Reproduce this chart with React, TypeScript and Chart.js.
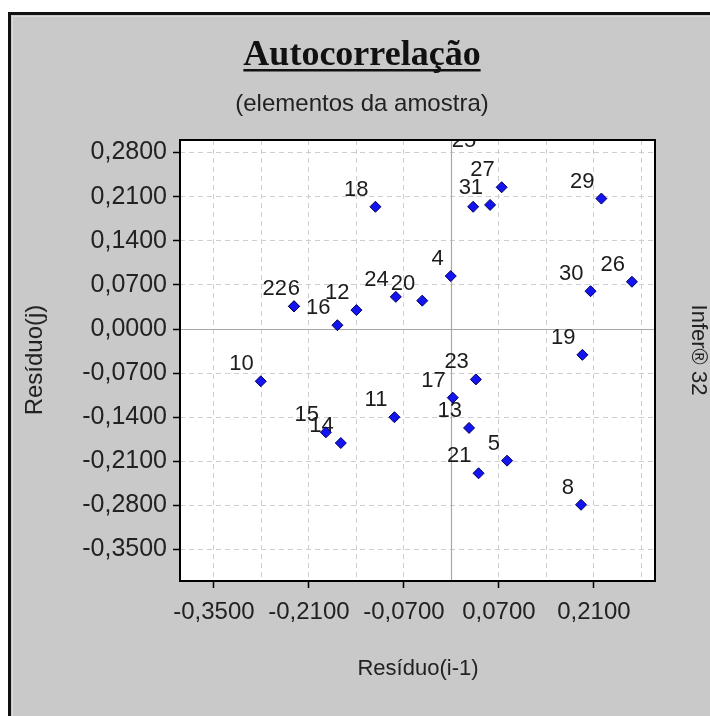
import React, { useEffect, useRef } from 'react';
import { Chart, registerables } from 'chart.js';

Chart.register(...registerables);

// ---- data ----
const POINT_IDS = [18, 22, 6, 16, 12, 24, 20, 4, 31, 25, 27, 29, 30, 26, 19, 10, 11, 15, 14, 23, 17, 13, 21, 5, 8];
const RESID_PREV = [-0.112, -0.232, -0.232, -0.168, -0.140, -0.082, -0.043, -0.001, 0.057, 0.032, 0.074, 0.221, 0.205, 0.266, 0.193, -0.281, -0.084, -0.185, -0.163, 0.036, 0.002, 0.026, 0.040, 0.082, 0.191];
const RESID_CUR = [0.194, 0.036, 0.036, 0.006, 0.030, 0.051, 0.045, 0.084, 0.197, 0.194, 0.225, 0.207, 0.060, 0.075, -0.041, -0.083, -0.140, -0.164, -0.181, -0.080, -0.109, -0.157, -0.229, -0.209, -0.279];

const Y_TICKS = [0.28, 0.21, 0.14, 0.07, 0.0, -0.07, -0.14, -0.21, -0.28, -0.35];
const X_GRID = [-0.35, -0.28, -0.21, -0.14, -0.07, 0.0, 0.07, 0.14, 0.21, 0.28];
const X_TICK_LABELS = [-0.35, -0.21, -0.07, 0.07, 0.21];

const TITLE = 'Autocorrelação';
const SUBTITLE = '(elementos da amostra)';
const X_TITLE = 'Resíduo(i-1)';
const Y_TITLE = 'Resíduo(j)';
const SIDE_TEXT = 'Infer® 32';

// label nudges for overlapping labels (pixels)
const LABEL_NUDGE: Record<number, [number, number]> = { 6: [13, 0], 25: [10, -49] };

const W = 710;
const H = 716;
const SANS = '"Liberation Sans", Arial, sans-serif';
const SERIF = '"Liberation Serif", "Times New Roman", serif';

const fmt = (v: number) => {
  const s = Math.abs(v).toFixed(4).replace('.', ',');
  return v < -1e-9 ? '-' + s : s;
};
const near = (a: number, b: number) => Math.abs(a - b) < 1e-6;

const decorPlugin = {
  id: 'decor',
  beforeDraw(chart: any) {
    const { ctx, chartArea: a } = chart;
    ctx.save();
    ctx.fillStyle = '#ffffff';
    ctx.fillRect(0, 0, W, H);
    ctx.fillStyle = '#c9c9c9';
    ctx.fillRect(8, 12, W - 8, H - 12);
    ctx.strokeStyle = '#111';
    ctx.lineWidth = 3;
    ctx.beginPath();
    ctx.moveTo(9.5, H);
    ctx.lineTo(9.5, 13.5);
    ctx.lineTo(W, 13.5);
    ctx.stroke();
    ctx.strokeStyle = '#dcdcdc';
    ctx.lineWidth = 1;
    ctx.beginPath();
    ctx.moveTo(12.5, H);
    ctx.lineTo(12.5, 16.5);
    ctx.lineTo(W, 16.5);
    ctx.stroke();
    ctx.fillStyle = '#ffffff';
    ctx.fillRect(a.left, a.top, a.right - a.left, a.bottom - a.top);

    // title
    ctx.fillStyle = '#111';
    ctx.font = `bold 36px ${SERIF}`;
    ctx.textAlign = 'center';
    ctx.textBaseline = 'alphabetic';
    ctx.fillText(TITLE, 362, 65);
    const tw = ctx.measureText(TITLE).width;
    ctx.fillRect(362 - tw / 2, 69, tw, 2.5);

    ctx.fillStyle = '#222';
    ctx.font = `24px ${SANS}`;
    ctx.textBaseline = 'middle';
    ctx.fillText(SUBTITLE, 362, 104);

    ctx.font = `22px ${SANS}`;
    ctx.fillText(X_TITLE, 418, 669);

    ctx.save();
    ctx.translate(35, 360);
    ctx.rotate(-Math.PI / 2);
    ctx.font = `24px ${SANS}`;
    ctx.fillText(Y_TITLE, 0, 0);
    ctx.restore();

    ctx.save();
    ctx.translate(698, 350);
    ctx.rotate(Math.PI / 2);
    ctx.font = `22px ${SANS}`;
    ctx.fillText(SIDE_TEXT, 0, 0);
    ctx.restore();
    ctx.restore();
  },
  beforeDatasetsDraw(chart: any) {
    const { ctx, chartArea: a, scales } = chart;
    const x0 = scales.x.getPixelForValue(0);
    const y0 = scales.y.getPixelForValue(0);
    ctx.save();
    ctx.beginPath();
    ctx.rect(a.left, a.top, a.right - a.left, a.bottom - a.top);
    ctx.clip();
    ctx.strokeStyle = '#a8a8a8';
    ctx.lineWidth = 1.2;
    ctx.beginPath();
    ctx.moveTo(Math.round(x0) + 0.5, a.top);
    ctx.lineTo(Math.round(x0) + 0.5, a.bottom);
    ctx.moveTo(a.left, Math.round(y0) + 0.5);
    ctx.lineTo(a.right, Math.round(y0) + 0.5);
    ctx.stroke();

    // point labels
    ctx.fillStyle = '#1c1c1c';
    ctx.font = `22px ${SANS}`;
    ctx.textAlign = 'right';
    ctx.textBaseline = 'alphabetic';
    POINT_IDS.forEach((id, i) => {
      const px = scales.x.getPixelForValue(RESID_PREV[i]);
      const py = scales.y.getPixelForValue(RESID_CUR[i]);
      const n = LABEL_NUDGE[id] || [0, 0];
      ctx.fillText(String(id), px - 7 + n[0], py - 11 + n[1]);
    });
    ctx.restore();
  },
  afterDatasetsDraw(chart: any) {
    const { ctx, chartArea: a } = chart;
    ctx.save();
    ctx.strokeStyle = '#000';
    ctx.lineWidth = 2;
    ctx.strokeRect(a.left, a.top, a.right - a.left, a.bottom - a.top);
    ctx.restore();
  },
};

export default function App() {
  const ref = useRef<HTMLCanvasElement>(null);
  useEffect(() => {
    if (!ref.current) return;
    const data = POINT_IDS.map((_, i) => ({ x: RESID_PREV[i], y: RESID_CUR[i] }));
    const chart = new Chart(ref.current, {
      type: 'scatter',
      data: {
        datasets: [
          {
            data,
            pointStyle: 'rectRot',
            pointRadius: 5.5,
            backgroundColor: '#1414f0',
            borderColor: '#00005a',
            borderWidth: 1,
          },
        ],
      },
      options: {
        responsive: false,
        animation: false,
        layout: { padding: { left: 0, top: 140, right: 55, bottom: 0 } },
        plugins: {
          legend: { display: false },
          tooltip: { enabled: false },
          title: { display: false },
        },
        scales: {
          x: {
            type: 'linear',
            position: 'bottom',
            min: -0.4,
            max: 0.3,
            afterBuildTicks: (s: any) => {
              s.ticks = X_GRID.map((v) => ({ value: v }));
            },
            afterFit: (s: any) => {
              s.height = H - 581;
            },
            grid: {
              color: (c: any) => (c.tick && near(c.tick.value, 0) ? 'rgba(0,0,0,0)' : '#cfcfcf'),
              lineWidth: 1,
              drawTicks: true,
              tickLength: 7,
              tickWidth: 1.5,
              tickColor: (c: any) =>
                c.tick && X_TICK_LABELS.some((v) => near(v, c.tick.value)) ? '#000' : 'rgba(0,0,0,0)',
            },
            border: { display: false, dash: [5, 4] },
            ticks: {
              autoSkip: false,
              maxRotation: 0,
              padding: 10,
              color: '#222',
              font: { family: SANS, size: 24 },
              callback: (v: any) => (X_TICK_LABELS.some((t) => near(t, Number(v))) ? fmt(Number(v)) : ''),
            },
          },
          y: {
            type: 'linear',
            position: 'left',
            min: -0.4,
            max: 0.3,
            afterBuildTicks: (s: any) => {
              s.ticks = Y_TICKS.map((v) => ({ value: v }));
            },
            afterFit: (s: any) => {
              s.width = 180;
            },
            grid: {
              color: (c: any) => (c.tick && near(c.tick.value, 0) ? 'rgba(0,0,0,0)' : '#cfcfcf'),
              lineWidth: 1,
              drawTicks: true,
              tickLength: 7,
              tickWidth: 1.5,
              tickColor: '#000',
            },
            border: { display: false, dash: [5, 4] },
            ticks: {
              autoSkip: false,
              padding: 6,
              color: '#222',
              font: { family: SANS, size: 25 },
              callback: (v: any) => fmt(Number(v)),
            },
          },
        },
      },
      plugins: [decorPlugin],
    } as any);
    return () => chart.destroy();
  }, []);
  return (
    <div style={{ position: 'absolute', left: 0, top: 0, width: W, height: H }}>
      <canvas ref={ref} width={W} height={H} style={{ display: 'block', width: W, height: H }} />
    </div>
  );
}
